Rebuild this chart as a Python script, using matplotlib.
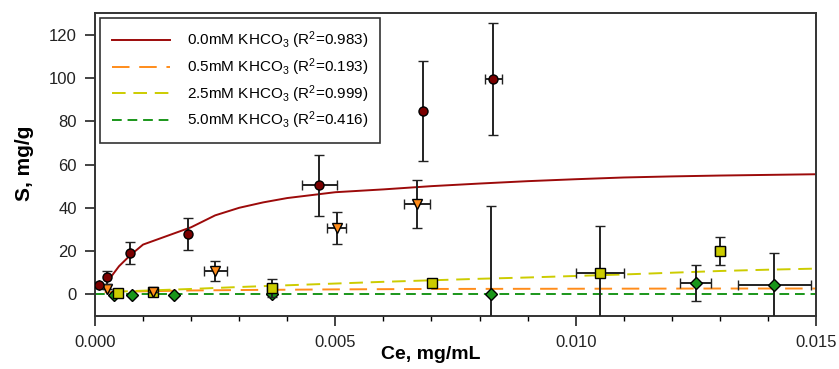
import numpy as np
import matplotlib
matplotlib.use("Agg")
import matplotlib.pyplot as plt
from matplotlib.ticker import MultipleLocator, FormatStrFormatter

plt.rcParams['font.family'] = ['Liberation Sans', 'DejaVu Sans']
plt.rcParams['mathtext.fontset'] = 'custom'
plt.rcParams['mathtext.rm'] = 'Liberation Sans'
plt.rcParams['mathtext.it'] = 'Liberation Sans:italic'
plt.rcParams['mathtext.bf'] = 'Liberation Sans:bold'

# ---- measured points (Ce, S) with error bars ----
# 0.0 mM KHCO3
x00 = [0.00008, 0.00025, 0.00073, 0.00193, 0.00467, 0.00683, 0.00829]
y00 = [4.3, 8.0, 19.0, 28.0, 50.3, 84.6, 99.5]
xe00 = [0.0, 0.0, 0.0, 0.0, 0.00037, 0.0, 0.00017]
ye00 = [0.0, 3.0, 5.0, 7.5, 14.3, 23.2, 25.8]

# 0.5 mM KHCO3
x05 = [0.00025, 0.00121, 0.0025, 0.00503, 0.0067]
y05 = [2.5, 1.2, 10.8, 30.8, 41.8]
xe05 = [0.0, 0.0, 0.00024, 0.0002, 0.00028]
ye05 = [0.0, 0.0, 4.5, 7.4, 11.0]

# 2.5 mM KHCO3
x25 = [0.00048, 0.00121, 0.00368, 0.00702, 0.0105, 0.0130]
y25 = [0.6, 1.2, 3.1, 5.2, 10.0, 20.0]
xe25 = [0.0, 0.0, 0.0001, 0.0, 0.0005, 0.0001]
ye25 = [0.0, 0.0, 4.2, 0.0, 21.4, 6.5]

# 5.0 mM KHCO3
x50 = [0.00039, 0.00077, 0.00164, 0.00368, 0.00824, 0.0125, 0.01413]
y50 = [-0.3, -0.3, -0.3, 0.0, 0.3, 5.2, 4.2]
xe50 = [0.0, 0.0, 0.0, 0.0, 0.0, 0.00032, 0.00076]
ye50 = [0.0, 0.0, 0.0, 0.0, 40.3, 8.4, 15.0]

# ---- fitted curves ----
fit_x00 = [0.00028, 0.0005, 0.00073, 0.001, 0.0015, 0.002, 0.0025, 0.003, 0.0035,
           0.004, 0.005, 0.006, 0.007, 0.008, 0.009, 0.010, 0.011, 0.012, 0.013, 0.014, 0.015]
fit_y00 = [6.5, 13.0, 18.0, 23.0, 27.0, 31.0, 36.5, 40.0, 42.5,
           44.5, 47.2, 48.5, 50.0, 51.2, 52.3, 53.2, 54.0, 54.5, 54.9, 55.2, 55.5]

fit_x05 = [0.0002, 0.001, 0.002, 0.003, 0.005, 0.007, 0.010, 0.013, 0.015]
fit_y05 = [1.0, 1.4, 1.8, 2.0, 2.3, 2.5, 2.6, 2.7, 2.7]

fit_x25 = [0.0004, 0.001, 0.002, 0.003, 0.004, 0.005, 0.006, 0.007, 0.008, 0.009,
           0.010, 0.011, 0.012, 0.013, 0.014, 0.015]
fit_y25 = [1.2, 1.7, 2.5, 3.4, 4.2, 5.0, 5.8, 6.5, 7.2, 7.8,
           8.5, 9.2, 10.0, 10.8, 11.4, 11.9]

fit_x50 = [0.0, 0.015]
fit_y50 = [0.0, 0.0]

labels = [r'0.0mM KHCO$_3$ (R$^2$=0.983)',
          r'0.5mM KHCO$_3$ (R$^2$=0.193)',
          r'2.5mM KHCO$_3$ (R$^2$=0.999)',
          r'5.0mM KHCO$_3$ (R$^2$=0.416)']

c_red = '#9c0a0a'
c_red_m = '#7a0000'
c_org = '#ff8c1a'
c_yel = '#cccc00'
c_grn = '#1a961a'

fig = plt.figure(figsize=(8.39, 3.69), dpi=100)
ax = fig.add_axes([0.1132, 0.1436, 0.8594, 0.8212])

# fit lines
l0, = ax.plot(fit_x00, fit_y00, color=c_red, lw=1.4, ls='-', zorder=2)
l1, = ax.plot(fit_x05, fit_y05, color=c_org, lw=1.4, ls=(0, (9, 5)), zorder=2)
l2, = ax.plot(fit_x25, fit_y25, color=c_yel, lw=1.4, ls=(0, (7, 4)), zorder=2)
l3, = ax.plot(fit_x50, fit_y50, color=c_grn, lw=1.4, ls=(0, (5, 3)), zorder=2)

eb = dict(ecolor='#222222', elinewidth=1.4, capsize=3.5, capthick=1.4,
          markeredgecolor='black', markeredgewidth=1.0, linestyle='none')
ax.errorbar(x50, y50, yerr=ye50, xerr=xe50, fmt='D', color=c_grn, ms=6.5, zorder=3, **eb)
ax.errorbar(x25, y25, yerr=ye25, xerr=xe25, fmt='s', color=c_yel, ms=7, zorder=4, **eb)
ax.errorbar(x05, y05, yerr=ye05, xerr=xe05, fmt='v', color=c_org, ms=7, zorder=5, **eb)
ax.errorbar(x00, y00, yerr=ye00, xerr=xe00, fmt='o', color=c_red_m, ms=6.5, zorder=6, **eb)

ax.set_xlim(0, 0.015)
ax.set_ylim(-10, 130)
ax.xaxis.set_major_locator(MultipleLocator(0.005))
ax.xaxis.set_minor_locator(MultipleLocator(0.001))
ax.xaxis.set_major_formatter(FormatStrFormatter('%.3f'))
ax.set_yticks([0, 20, 40, 60, 80, 100, 120])
ax.tick_params(axis='both', which='major', direction='out', length=7, width=1.2,
               labelsize=12, colors='#222222')
ax.tick_params(axis='x', which='minor', direction='out', length=3.5, width=1.0)
ax.tick_params(axis='x', which='major', pad=7)
ax.tick_params(axis='y', which='major', pad=6)
for sp in ax.spines.values():
    sp.set_linewidth(1.4)
    sp.set_color('#333333')

ax.set_xlabel('Ce, mg/mL', fontsize=14, fontweight='bold')
ax.set_ylabel('S, mg/g', fontsize=15, fontweight='bold')
ax.xaxis.set_label_coords(0.466, -0.1)
ax.yaxis.set_label_coords(-0.085, 0.505)

leg = ax.legend([l0, l1, l2, l3], labels, loc='upper left', fontsize=11,
                frameon=True, fancybox=False, edgecolor='black',
                handlelength=3.8, handletextpad=1.1, labelspacing=0.33,
                borderaxespad=0.35, borderpad=0.75)
leg.get_frame().set_linewidth(1.2)

fig.savefig('out.png', dpi=100)
